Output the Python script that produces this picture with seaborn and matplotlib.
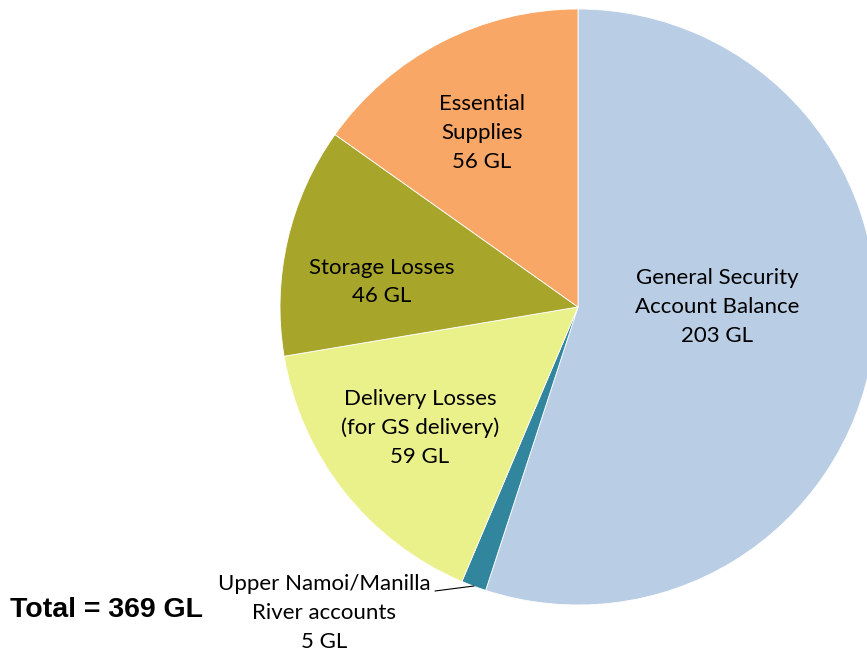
import seaborn as sns
from matplotlib import pyplot as plt

# water account components (GL)
labels = ["General Security\nAccount Balance\n203 GL",
          "Upper Namoi/Manilla\nRiver accounts\n5 GL",
          "Delivery Losses\n(for GS delivery)\n59 GL",
          "Storage Losses\n46 GL",
          "Essential\nSupplies\n56 GL"]
values = [203, 5, 59, 46, 56]
colors = ["#B9CDE5", "#31859C", "#EBF18A", "#A8A52B", "#F8A766"]
total_text = "Total = 369 GL"

sns.set_theme(style="white")
plt.rcParams['font.family'] = ['Lato', 'DejaVu Sans']

fig = plt.figure(figsize=(8.67, 6.55), dpi=100)
ax = fig.add_axes([0, 0, 1, 1])

cx, cy, r = 578, 655 - 307, 298
wedges, _ = ax.pie(values, colors=colors, startangle=90, counterclock=False,
                   center=(cx, cy), radius=r, frame=True,
                   wedgeprops=dict(edgecolor="white", linewidth=0.6))
ax.set_xlim(0, 867)
ax.set_ylim(0, 655)
ax.set_aspect('equal')
ax.axis('off')

# label positions in pixel coords (x, y from top)
label_pos = [(717, 307), (324, 613), (420, 428), (382, 282), (482, 133)]
for lab, (x, y) in zip(labels, label_pos):
    ax.text(x, 655 - y, lab, ha="center", va="center", fontsize=16,
            linespacing=1.55, color="black")

# leader line for the small slice
ax.plot([435, 474], [655 - 591, 655 - 586], color="black", lw=0.8)

ax.text(106, 655 - 610, total_text, ha="center", va="center", fontsize=20.5,
        fontweight="bold", color="black",
        family=["Liberation Sans", "DejaVu Sans"])

plt.savefig("out.png", dpi=100)
